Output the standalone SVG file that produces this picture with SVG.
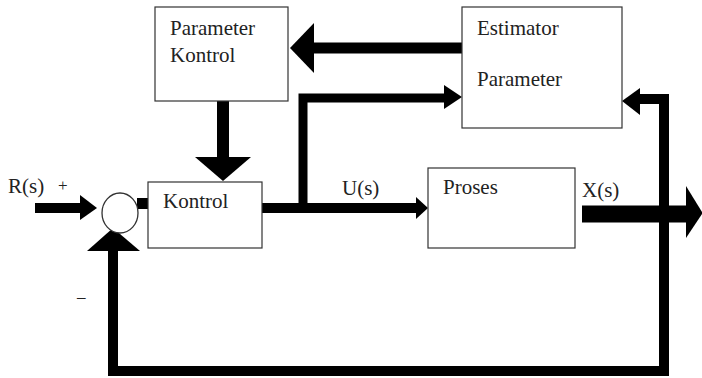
<svg xmlns="http://www.w3.org/2000/svg" width="702" height="378" viewBox="0 0 702 378">
<style>
.box{fill:#fff;stroke:#333;stroke-width:1.2}
text{font-family:'Liberation Serif','DejaVu Serif',serif;font-size:21px;fill:#222}
.w{stroke:#000;fill:none;stroke-linejoin:miter;stroke-linecap:butt}
.h{fill:#000}
</style>
<rect width="702" height="378" fill="#fff"/>
<g id="connectors">
  <line class="w" x1="462" y1="48" x2="312" y2="48" stroke-width="11"/>
  <polygon class="h" points="290,48 314,23 314,73"/>
  <line class="w" x1="223" y1="101" x2="223" y2="158" stroke-width="12"/>
  <polygon class="h" points="195,157 251,157 223,181"/>
  <line class="w" x1="35" y1="208" x2="82" y2="208" stroke-width="10"/>
  <polygon class="h" points="97,208 80,195 80,220"/>
  <rect class="h" x="137" y="198" width="11" height="11"/>
  <line class="w" x1="262" y1="208" x2="418" y2="208" stroke-width="10"/>
  <polygon class="h" points="428,208 416,197 416,219"/>
  <polyline class="w" points="303,208 303,98 447,98" stroke-width="9"/>
  <polygon class="h" points="462,97 444,85 444,109"/>
  <line class="w" x1="582" y1="214" x2="688" y2="214" stroke-width="17"/>
  <polygon class="h" points="686,186 702,212 702,214 686,238"/>
  <polyline class="w" points="639,99 664,99 664,371 113,371 113,248" stroke-width="10"/>
  <polygon class="h" points="622,101 640,88 640,115"/>
  <polygon class="h" points="113,228 87,251 140,251"/>
</g>
<g id="param-kontrol">
  <rect class="box" x="155" y="7" width="133" height="94"/>
  <text x="170" y="35" font-family="Liberation Serif, serif">Parameter</text>
  <text x="170" y="62" font-family="Liberation Serif, serif">Kontrol</text>
</g>
<g id="estimator">
  <rect class="box" x="462" y="7" width="160" height="121"/>
  <text x="477" y="35" font-family="Liberation Serif, serif">Estimator</text>
  <text x="477" y="86" font-family="Liberation Serif, serif">Parameter</text>
</g>
<g id="sum">
  <ellipse cx="120" cy="213" rx="18" ry="20" fill="#fff" stroke="#333" stroke-width="1.3"/>
</g>
<g id="kontrol">
  <rect class="box" x="148" y="182" width="114" height="66"/>
  <text x="163" y="208" font-family="Liberation Serif, serif">Kontrol</text>
</g>
<g id="proses">
  <rect class="box" x="428" y="168" width="147" height="80"/>
  <text x="443" y="194" font-family="Liberation Serif, serif">Proses</text>
</g>
<g id="labels">
  <text x="8" y="193" font-family="Liberation Serif, serif">R(s)</text>
  <text x="58" y="191" font-size="17" style="font-size:17px" font-family="Liberation Serif, serif">+</text>
  <text x="342" y="195" font-family="Liberation Serif, serif">U(s)</text>
  <text x="582" y="197" font-family="Liberation Serif, serif">X(s)</text>
  <text x="77" y="302" style="font-size:17px" font-family="Liberation Serif, serif">–</text>
</g>
</svg>
